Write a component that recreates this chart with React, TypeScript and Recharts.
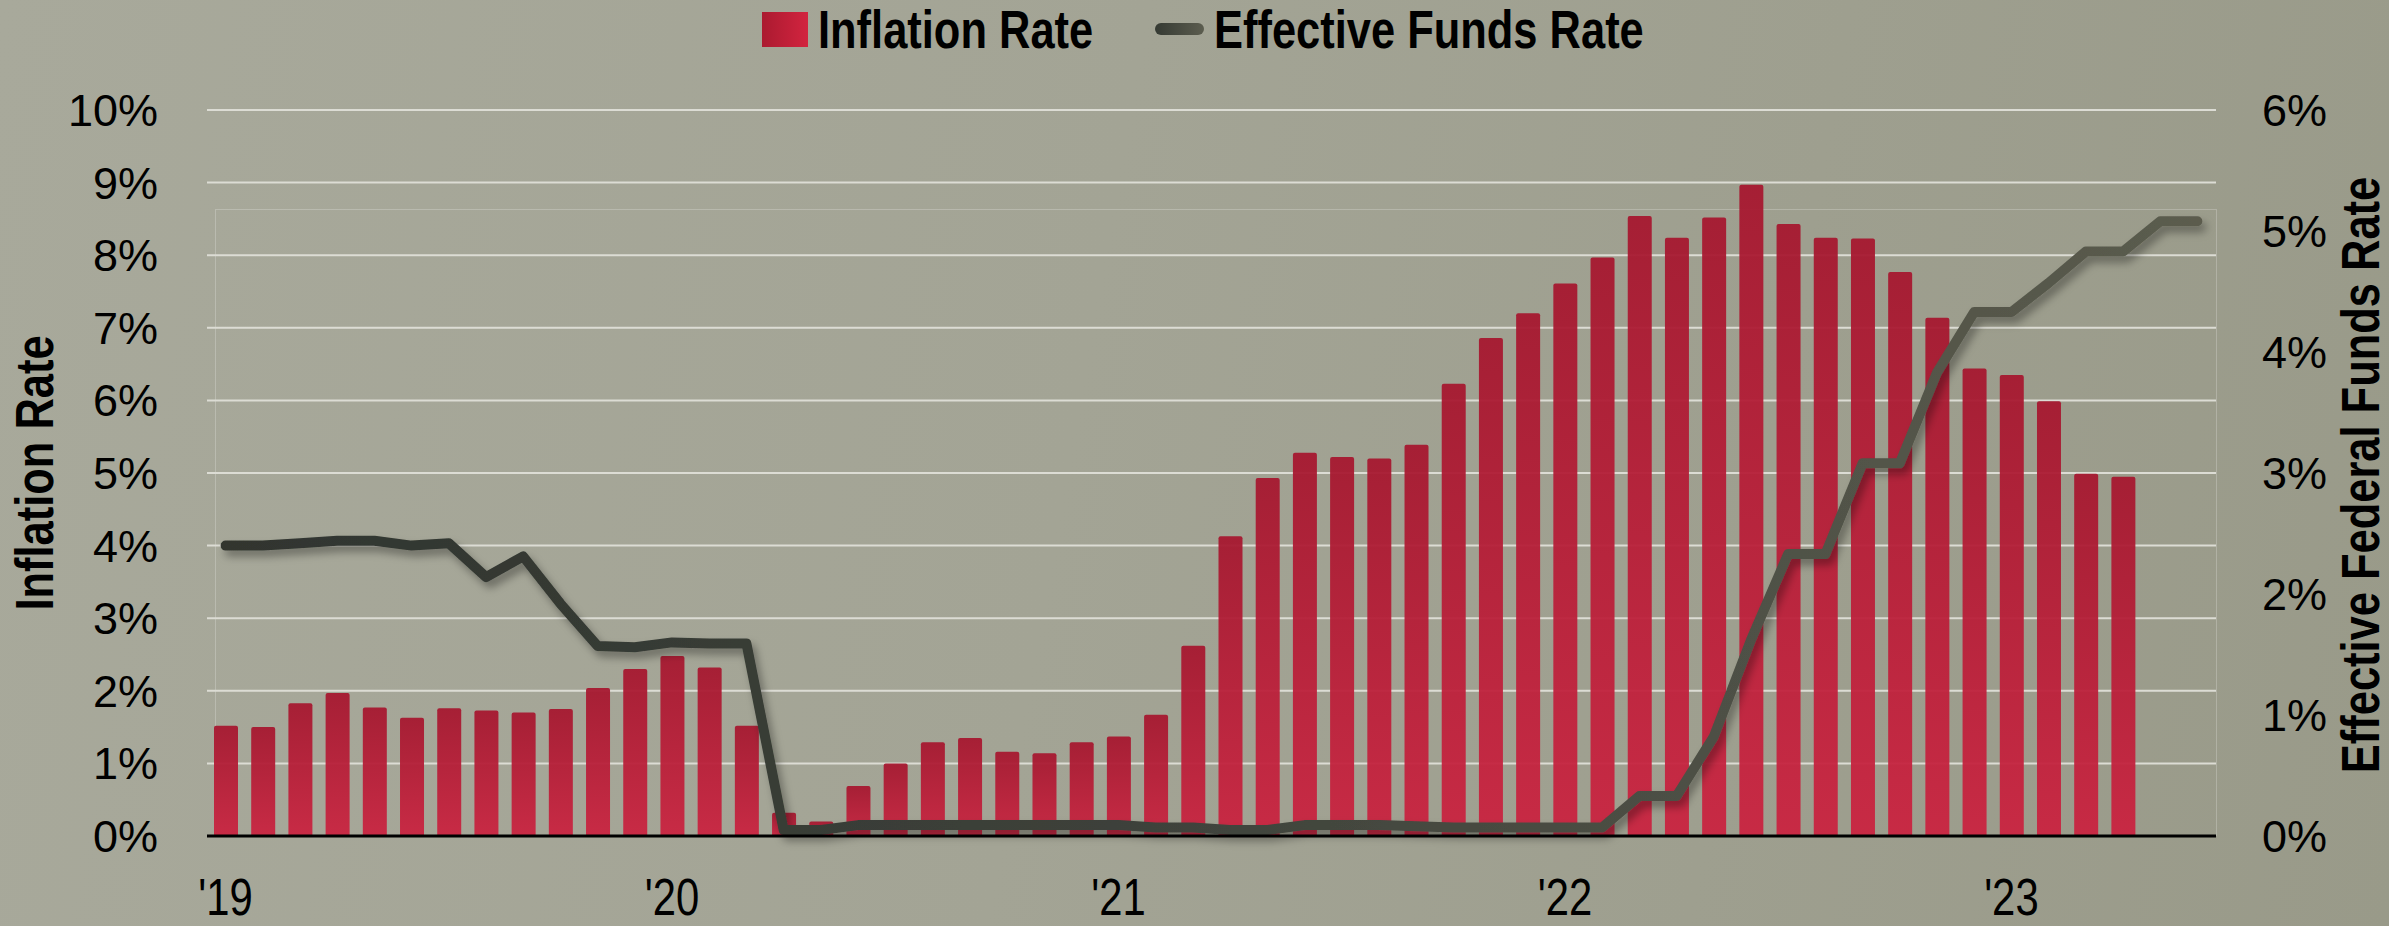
import React from "react";
import {
  ComposedChart,
  Bar,
  Line,
  XAxis,
  YAxis,
  CartesianGrid,
  Legend,
} from "recharts";

// ---------- data ----------
const months = [
  "Jan-19", "Feb-19", "Mar-19", "Apr-19", "May-19", "Jun-19", "Jul-19", "Aug-19", "Sep-19", "Oct-19", "Nov-19", "Dec-19",
  "Jan-20", "Feb-20", "Mar-20", "Apr-20", "May-20", "Jun-20", "Jul-20", "Aug-20", "Sep-20", "Oct-20", "Nov-20", "Dec-20",
  "Jan-21", "Feb-21", "Mar-21", "Apr-21", "May-21", "Jun-21", "Jul-21", "Aug-21", "Sep-21", "Oct-21", "Nov-21", "Dec-21",
  "Jan-22", "Feb-22", "Mar-22", "Apr-22", "May-22", "Jun-22", "Jul-22", "Aug-22", "Sep-22", "Oct-22", "Nov-22", "Dec-22",
  "Jan-23", "Feb-23", "Mar-23", "Apr-23", "May-23", "Jun-23",
];

const inflationRate = [
  1.52, 1.50, 1.83, 1.97, 1.77, 1.63, 1.76, 1.73, 1.70, 1.75, 2.04, 2.30,
  2.48, 2.32, 1.52, 0.32, 0.20, 0.69, 1.00, 1.29, 1.35, 1.16, 1.14, 1.29,
  1.37, 1.67, 2.62, 4.13, 4.93, 5.28, 5.22, 5.20, 5.39, 6.23, 6.86, 7.20,
  7.61, 7.97, 8.54, 8.24, 8.52, 8.97, 8.43, 8.24, 8.23, 7.77, 7.14, 6.44,
  6.35, 5.99, 4.99, 4.95,
];

const fundsRate = [
  2.40, 2.40, 2.42, 2.44, 2.44, 2.40, 2.42, 2.14, 2.31, 1.92, 1.57, 1.56,
  1.60, 1.59, 1.59, 0.05, 0.05, 0.09, 0.09, 0.09, 0.09, 0.09, 0.09, 0.09,
  0.09, 0.07, 0.07, 0.05, 0.05, 0.09, 0.09, 0.09, 0.08, 0.07, 0.07, 0.07,
  0.07, 0.07, 0.33, 0.33, 0.82, 1.62, 2.33, 2.33, 3.08, 3.08, 3.83, 4.33,
  4.33, 4.57, 4.83, 4.83, 5.08, 5.08,
];

const yearTickKeys = ["Jan-19", "Jan-20", "Jan-21", "Jan-22", "Jan-23"];
const yearTickLabels = ["'19", "'20", "'21", "'22", "'23"];
const leftTicks = [0, 1, 2, 3, 4, 5, 6, 7, 8, 9, 10];
const rightTicks = [0, 1, 2, 3, 4, 5, 6];

const seriesNames = ["Inflation Rate", "Effective Funds Rate"];
const leftTitle = "Inflation Rate";
const rightTitle = "Effective Federal Funds Rate";

const data = months.map((m, i) => ({
  month: m,
  inflation: i < inflationRate.length ? inflationRate[i] : null,
  funds: fundsRate[i],
}));

// ---------- styles ----------
const W = 2389;
const H = 926;
const SANS = "'Liberation Sans', Arial, sans-serif";
const NARROW_SCALE = 0.82; // Arial Narrow look, made from Liberation Sans

const XTick = (props: any) => {
  const { x, y, payload } = props;
  const idx = yearTickKeys.indexOf(payload.value);
  if (idx < 0) return null;
  return (
    <text
      x={0}
      y={0}
      transform={`translate(${x}, ${y + 79}) scale(${NARROW_SCALE}, 1)`}
      textAnchor="middle"
      fontFamily={SANS}
      fontSize={51}
      fill="#000"
    >
      {yearTickLabels[idx]}
    </text>
  );
};

const LeftTick = (props: any) => {
  const { x, y, payload } = props;
  return (
    <text x={x - 49} y={y + 16} textAnchor="end" fontFamily={SANS} fontSize={45} fill="#000">
      {`${payload.value}%`}
    </text>
  );
};

const RightTick = (props: any) => {
  const { x, y, payload } = props;
  return (
    <text x={x + 46} y={y + 16} textAnchor="start" fontFamily={SANS} fontSize={45} fill="#000">
      {`${payload.value}%`}
    </text>
  );
};

const AxisTitle = ({ cx, cy, text }: { cx: number; cy: number; text: string }) => (
  <text
    x={0}
    y={0}
    transform={`translate(${cx + 19}, ${cy}) rotate(-90) scale(${NARROW_SCALE}, 1)`}
    textAnchor="middle"
    fontFamily={SANS}
    fontWeight="bold"
    fontSize={53}
    fill="#000"
  >
    {text}
  </text>
);

const LegendContent = () => (
  <svg width={W} height={62} style={{ display: "block" }}>
    <defs>
      <linearGradient id="legSq" x1="0" y1="0" x2="1" y2="0">
        <stop offset="0%" stopColor="#ab1a30" />
        <stop offset="100%" stopColor="#d2243f" />
      </linearGradient>
      <linearGradient id="legLn" x1="0" y1="0" x2="1" y2="0">
        <stop offset="0%" stopColor="#353a33" />
        <stop offset="100%" stopColor="#5c5d4f" />
      </linearGradient>
    </defs>
    <rect x={762} y={12} width={46} height={35} fill="url(#legSq)" />
    <text
      x={0}
      y={0}
      transform={`translate(818, 48) scale(${NARROW_SCALE}, 1)`}
      fontFamily={SANS}
      fontWeight="bold"
      fontSize={53}
      fill="#000"
    >
      {seriesNames[0]}
    </text>
    <rect x={1155} y={23} width={49} height={12} rx={6} fill="url(#legLn)" />
    <text
      x={0}
      y={0}
      transform={`translate(1214, 48) scale(${NARROW_SCALE}, 1)`}
      fontFamily={SANS}
      fontWeight="bold"
      fontSize={53}
      fill="#000"
    >
      {seriesNames[1]}
    </text>
  </svg>
);

export default function App() {
  return (
    <div
      style={{
        position: "absolute",
        left: 0,
        top: 0,
        width: W,
        height: H,
        overflow: "hidden",
        background: "linear-gradient(100deg, #a8a99b 0%, #a3a495 45%, #999a89 100%)",
      }}
    >
      <div
        style={{
          position: "absolute",
          left: 215,
          top: 209,
          width: 2002,
          height: 627,
          border: "1px solid rgba(255,255,255,0.22)",
          boxSizing: "border-box",
        }}
      />
      <div style={{ position: "absolute", left: 0, top: 0 }}>
        <ComposedChart
          width={W}
          height={H}
          data={data}
          margin={{ top: 48, right: 0, bottom: 0, left: 0 }}
        >
          <defs>
            <linearGradient id="barGrad" x1="0" y1="0" x2="0" y2="1">
              <stop offset="0%" stopColor="#a6172f" />
              <stop offset="100%" stopColor="#ca2340" />
            </linearGradient>
            <linearGradient id="lineGrad" x1="0" y1="0" x2="1" y2="0">
              <stop offset="0%" stopColor="#30352f" />
              <stop offset="45%" stopColor="#3d413a" />
              <stop offset="100%" stopColor="#5b5c4e" />
            </linearGradient>
            <filter id="lineShadow" x="-5%" y="-20%" width="110%" height="140%">
              <feDropShadow dx="4" dy="6" stdDeviation="4" floodColor="#000" floodOpacity="0.35" />
            </filter>
          </defs>
          <Legend
            verticalAlign="top"
            content={<LegendContent />}
            wrapperStyle={{ top: 0, left: 0, width: W, height: 62 }}
          />
          <CartesianGrid
            yAxisId="left"
            vertical={false}
            stroke="#dcdcd4"
            strokeWidth={2}
          />
          <XAxis
            dataKey="month"
            ticks={yearTickKeys}
            interval={0}
            tick={<XTick />}
            tickLine={false}
            tickSize={0}
            tickMargin={0}
            axisLine={{ stroke: "#000", strokeWidth: 3 }}
            height={90}
          />
          <YAxis
            yAxisId="left"
            orientation="left"
            domain={[0, 10]}
            ticks={leftTicks}
            interval={0}
            width={207}
            tick={<LeftTick />}
            tickLine={false}
            tickSize={0}
            tickMargin={0}
            axisLine={false}
            label={<AxisTitle cx={34} cy={473} text={leftTitle} />}
          />
          <YAxis
            yAxisId="right"
            orientation="right"
            domain={[0, 6]}
            ticks={rightTicks}
            interval={0}
            width={173}
            tick={<RightTick />}
            tickLine={false}
            tickSize={0}
            tickMargin={0}
            axisLine={false}
            label={<AxisTitle cx={2360} cy={475} text={rightTitle} />}
          />
          <Bar
            yAxisId="left"
            dataKey="inflation"
            name={seriesNames[0]}
            barSize={24}
            fill="url(#barGrad)"
            fillOpacity={0.94}
            radius={[2, 2, 0, 0]}
            isAnimationActive={false}
          />
          <Line
            yAxisId="right"
            dataKey="funds"
            name={seriesNames[1]}
            type="linear"
            stroke="url(#lineGrad)"
            strokeWidth={10}
            strokeLinecap="round"
            strokeLinejoin="round"
            dot={false}
            activeDot={false}
            filter="url(#lineShadow)"
            isAnimationActive={false}
          />
        </ComposedChart>
      </div>
    </div>
  );
}
